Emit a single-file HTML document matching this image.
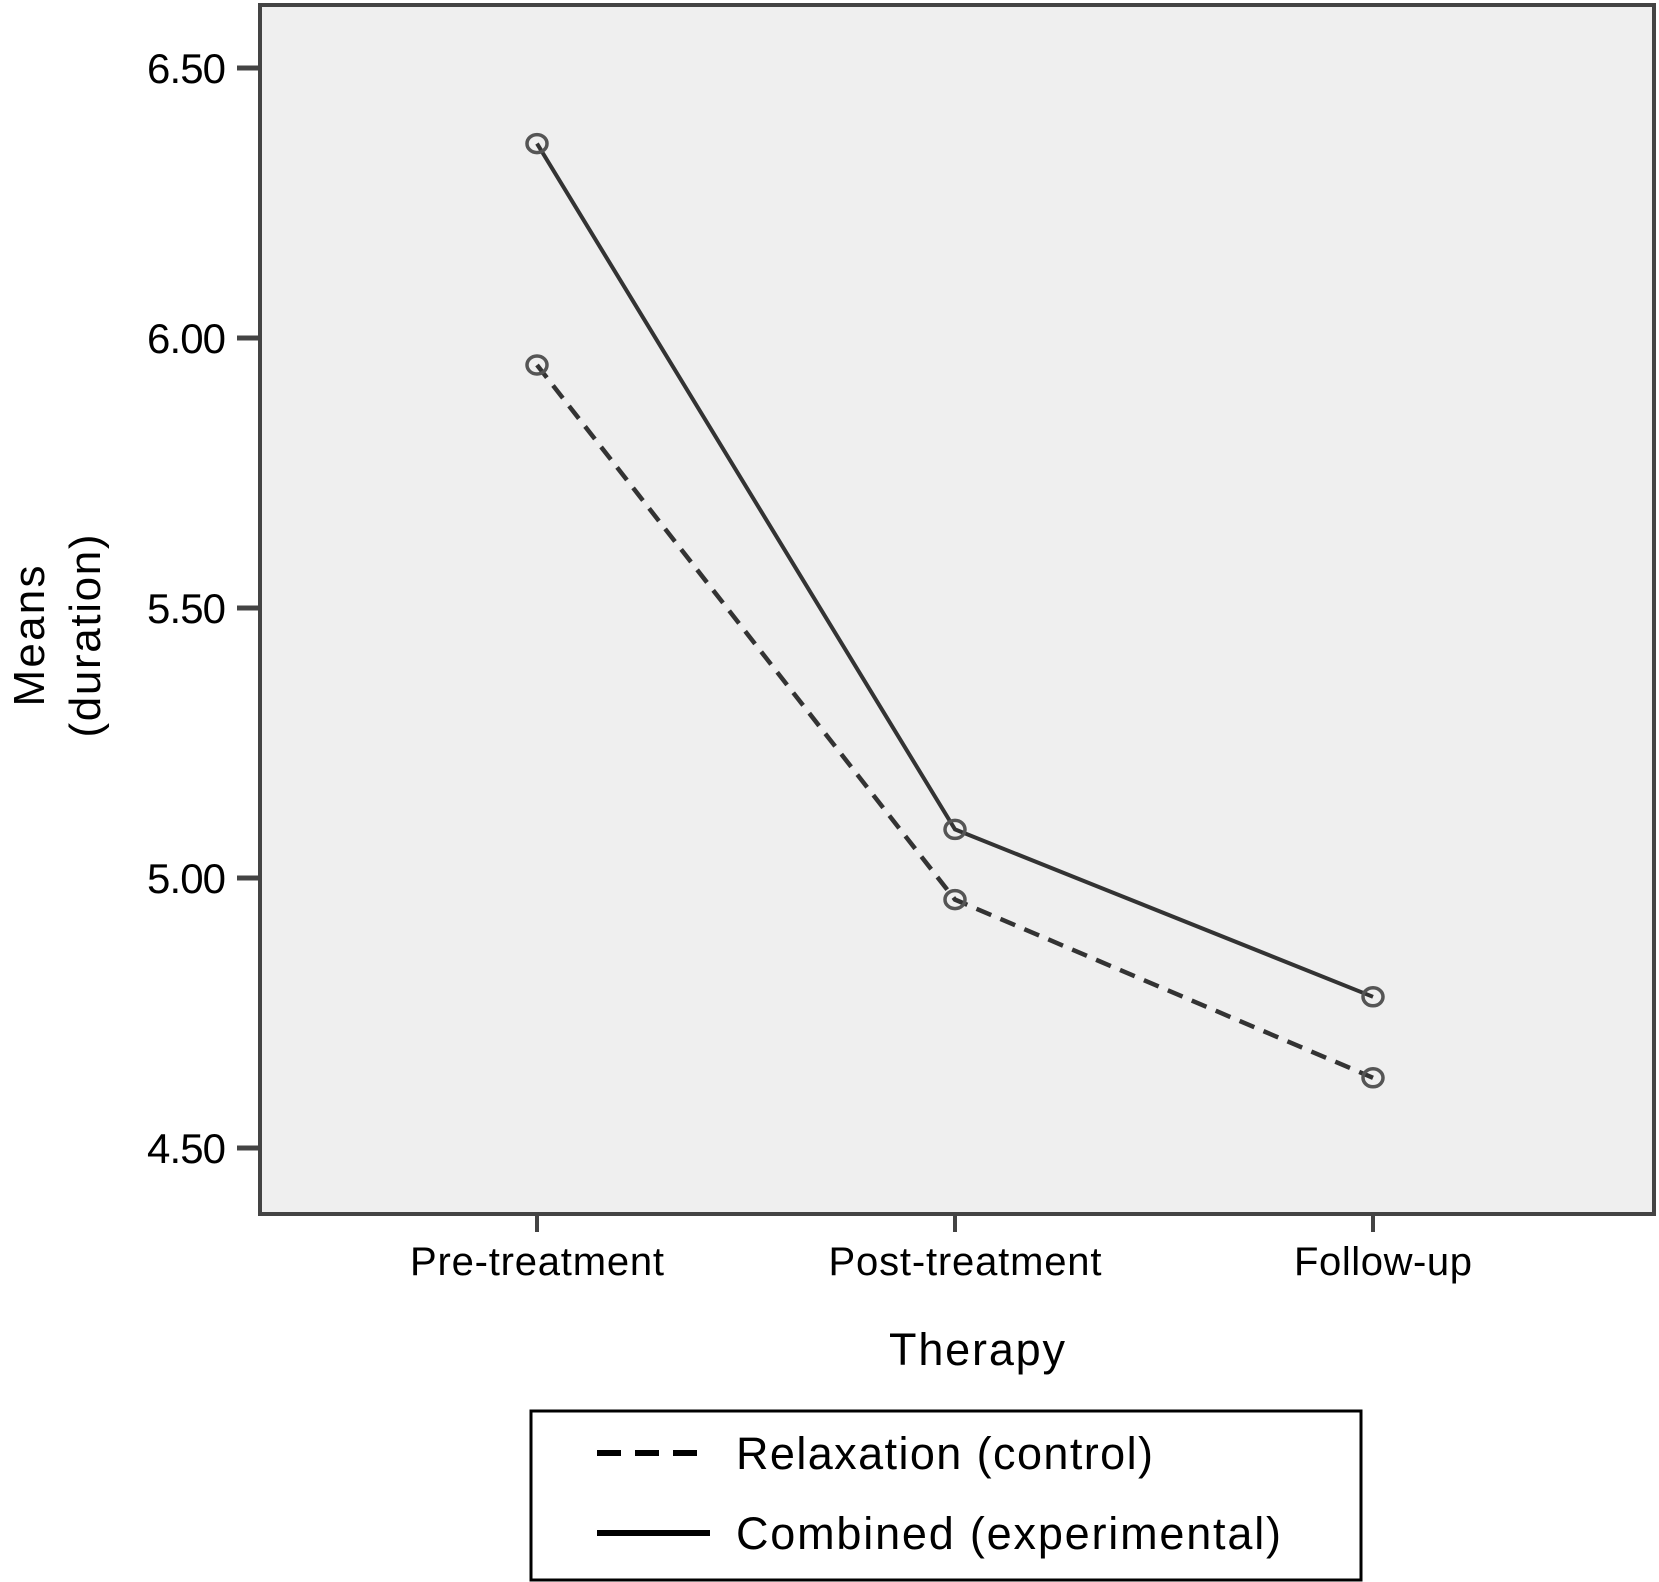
<!DOCTYPE html>
<html><head><meta charset="utf-8"><style>
html,body{margin:0;padding:0;background:#fff;}
svg{display:block;font-family:"Liberation Sans",Arial,sans-serif;}
</style></head><body>
<svg id="chart" width="1659" height="1582" viewBox="0 0 1659 1582">
<rect x="260" y="5" width="1394" height="1209" fill="#efefef" stroke="#444" stroke-width="4"/>
<g id="yaxis"></g>
<g id="xaxis"></g>
<g id="series"></g>
<text x="977" y="1365" font-size="45" text-anchor="middle" textLength="176">Therapy</text>
<g transform="translate(0,636) rotate(-90)">
<text x="0" y="44" font-size="44" text-anchor="middle" textLength="141">Means</text>
<text x="0" y="100" font-size="44" text-anchor="middle" textLength="203">(duration)</text>
</g>
<g>
<rect x="531" y="1411" width="830" height="169" fill="#fff" stroke="#000" stroke-width="3"/>
<line x1="597" y1="1453" x2="710" y2="1453" stroke="#000" stroke-width="6" stroke-dasharray="24,14"/>
<text x="736" y="1469" font-size="45" textLength="417">Relaxation (control)</text>
<line x1="597" y1="1533" x2="710" y2="1533" stroke="#000" stroke-width="6"/>
<text x="736" y="1549" font-size="45" textLength="545">Combined (experimental)</text>
</g>
</svg>
<script>
const categories = ["Pre-treatment", "Post-treatment", "Follow-up"];
const relaxation = [5.95, 4.96, 4.63];
const combined = [6.36, 5.09, 4.78];
const yTicks = [4.5, 5.0, 5.5, 6.0, 6.5];
const yTickLabels = ["4.50", "5.00", "5.50", "6.00", "6.50"];

const NS = "http://www.w3.org/2000/svg";
const xPos = [537, 955, 1373];
const labelLen = [254, 273, 178];
function x(i){ return xPos[0] + i * (xPos[2]-xPos[0])/(categories.length-1); }
function y(v){ return 338 - (v - 6.0) * 540; }
function mk(tag, attrs, parent){ const e=document.createElementNS(NS,tag); for(const k in attrs) e.setAttribute(k,attrs[k]); parent.appendChild(e); return e; }

const ya = document.getElementById("yaxis");
yTicks.forEach((t,i)=>{
  const l = mk("line",{x1:237,x2:260,y1:y(t),y2:y(t),stroke:"#444","stroke-width":5},ya);
  
  
  const tx = mk("text",{x:226,y:y(t)+15,"font-size":42,"text-anchor":"end",textLength:79},ya);
  tx.textContent = yTickLabels[i];
  
  
});
const xa = document.getElementById("xaxis");
categories.forEach((c,i)=>{
  const l = mk("line",{x1:x(i),x2:x(i),y1:1214,y2:1232,stroke:"#444","stroke-width":4},xa);
  
  
  const tx = mk("text",{x:x(i)+(i==0?0:10),y:1275,"font-size":40,"text-anchor":"middle",textLength:labelLen[i]},xa);
  tx.textContent = c;
  
  
});
const sg = document.getElementById("series");
function drawSeries(vals, dash, name){
  const pts = vals.map((v,i)=>x(i)+","+y(v)).join(" ");
  const pl = mk("polyline",{points:pts,fill:"none",stroke:"#333","stroke-width":dash?4.5:4},sg);
  if(dash) pl.setAttribute("stroke-dasharray","16,10");
  
  
  vals.forEach((v,i)=>{
    const c = mk("ellipse",{cx:x(i),cy:y(v),rx:10,ry:9,fill:"none",stroke:"#555","stroke-width":3.5},sg);
    
    
  });
}
drawSeries(relaxation, true, "relaxation");
drawSeries(combined, false, "combined");
</script>
</body></html>
